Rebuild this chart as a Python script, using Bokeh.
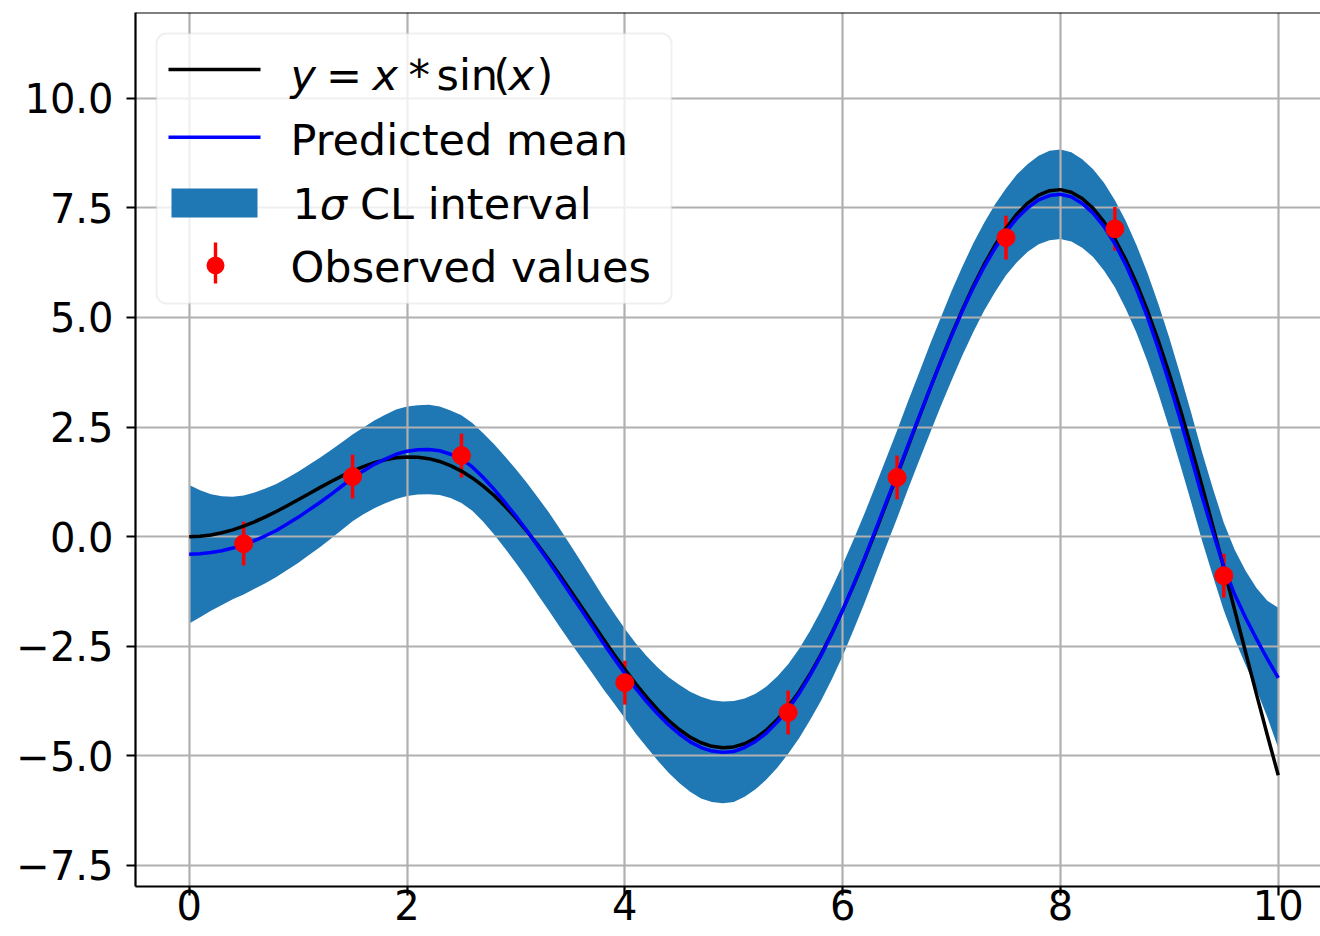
import numpy as np
from bokeh.plotting import figure
from bokeh.models import (Range1d, FixedTicker, CustomJSTickFormatter, Span,
                          BoxAnnotation, Label)
from bokeh.embed import file_html
from bokeh.resources import INLINE

# ---------------- data ----------------
x_grid = [round(0.1 * i, 1) for i in range(101)]     # sampling positions 0..10

true_y = [0.000, 0.010, 0.040, 0.089, 0.156, 0.240, 0.339, 0.451, 0.574, 0.705,
          0.841, 0.980, 1.118, 1.253, 1.380, 1.496, 1.599, 1.686, 1.753, 1.798,
          1.819, 1.813, 1.779, 1.715, 1.621, 1.496, 1.340, 1.154, 0.938, 0.694,
          0.423, 0.129, -0.187, -0.520, -0.869, -1.228, -1.593, -1.960, -2.325, -2.682,
          -3.027, -3.355, -3.661, -3.940, -4.187, -4.399, -4.571, -4.700, -4.782, -4.814,
          -4.795, -4.722, -4.594, -4.411, -4.173, -3.880, -3.535, -3.139, -2.695, -2.206,
          -1.676, -1.111, -0.515, 0.106, 0.746, 1.398, 2.056, 2.712, 3.360, 3.991,
          4.599, 5.176, 5.715, 6.208, 6.650, 7.035, 7.356, 7.609, 7.788, 7.891,
          7.915, 7.856, 7.714, 7.488, 7.179, 6.787, 6.316, 5.768, 5.147, 4.459,
          3.709, 2.904, 2.051, 1.158, 0.233, -0.714, -1.673, -2.636, -3.592, -4.529,
          -5.440]

pred_mean = [-0.40, -0.39, -0.36, -0.32, -0.26, -0.19, -0.09, 0.02, 0.14, 0.29,
             0.44, 0.61, 0.78, 0.96, 1.15, 1.34, 1.50, 1.65, 1.77, 1.88,
             1.95, 1.98, 1.99, 1.96, 1.88, 1.77, 1.59, 1.35, 1.08, 0.78,
             0.47, 0.14, -0.21, -0.56, -0.93, -1.30, -1.67, -2.04, -2.42, -2.77,
             -3.12, -3.46, -3.76, -4.04, -4.29, -4.50, -4.68, -4.81, -4.89, -4.92,
             -4.90, -4.81, -4.67, -4.48, -4.23, -3.93, -3.58, -3.17, -2.72, -2.22,
             -1.68, -1.10, -0.50, 0.14, 0.78, 1.42, 2.08, 2.72, 3.36, 3.98,
             4.58, 5.15, 5.68, 6.16, 6.58, 6.95, 7.26, 7.50, 7.68, 7.78,
             7.81, 7.75, 7.60, 7.38, 7.07, 6.68, 6.20, 5.64, 5.00, 4.28,
             3.50, 2.67, 1.81, 0.92, 0.10, -0.68, -1.32, -1.85, -2.33, -2.79,
             -3.22]

pred_sigma = [1.58, 1.45, 1.33, 1.24, 1.17, 1.13, 1.10, 1.08, 1.06, 1.05,
              1.04, 1.03, 1.02, 1.01, 1.00, 0.99, 0.99, 1.00, 1.01, 1.02,
              1.02, 1.02, 1.02, 1.01, 1.00, 1.00, 1.00, 1.01, 1.03, 1.05,
              1.07, 1.09, 1.11, 1.12, 1.12, 1.11, 1.09, 1.07, 1.05, 1.03,
              1.02, 1.03, 1.04, 1.06, 1.09, 1.12, 1.14, 1.16, 1.16, 1.16,
              1.15, 1.12, 1.09, 1.06, 1.04, 1.02, 1.02, 1.02, 1.03, 1.04,
              1.04, 1.03, 1.02, 1.01, 1.00, 1.00, 1.00, 1.00, 1.01, 1.01,
              1.02, 1.01, 1.01, 1.00, 1.00, 0.99, 1.00, 1.00, 1.01, 1.02,
              1.02, 1.02, 1.01, 1.00, 1.00, 0.99, 1.00, 1.00, 1.01, 1.02,
              1.03, 1.03, 1.02, 1.01, 1.00, 1.00, 1.02, 1.07, 1.16, 1.33,
              1.60]

obs_x = [0.5, 1.5, 2.5, 4.0, 5.5, 6.5, 7.5, 8.5, 9.5]
obs_y = [-0.16, 1.37, 1.85, -3.33, -4.01, 1.35, 6.82, 7.02, -0.89]
obs_err = [0.5, 0.5, 0.5, 0.5, 0.5, 0.5, 0.5, 0.5, 0.5]

x_ticks = [0, 2, 4, 6, 8, 10]
y_ticks = [-7.5, -5.0, -2.5, 0.0, 2.5, 5.0, 7.5, 10.0]

legend_labels = ["Predicted mean", "CL interval", "Observed values"]

# ---------------- derived ----------------
band_lo = [m - s for m, s in zip(pred_mean, pred_sigma)]
band_hi = [m + s for m, s in zip(pred_mean, pred_sigma)]
err_lo = [y - e for y, e in zip(obs_y, obs_err)]
err_hi = [y + e for y, e in zip(obs_y, obs_err)]

X_LEFT, X_RIGHT = -0.493, 10.388
Y_BOTTOM, Y_TOP = -7.979, 11.955

FONT = "DejaVu Sans"

p = figure(width=1320, height=936,
           x_range=Range1d(X_LEFT, X_RIGHT), y_range=Range1d(Y_BOTTOM, Y_TOP),
           output_backend="svg", toolbar_location=None,
           min_border_left=135, min_border_right=0,
           min_border_top=12, min_border_bottom=50,
           background_fill_color="white", border_fill_color="white",
           outline_line_color=None)

# band (below grid), error bars, curves, markers
p.varea(x=x_grid, y1=band_lo, y2=band_hi, fill_color="#1f77b4", level="image")
p.segment(x0=obs_x, y0=err_lo, x1=obs_x, y1=err_hi, line_color="#ff0000", line_width=3.5)
p.line(x_grid, true_y, line_color="black", line_width=3.5)
p.line(x_grid, pred_mean, line_color="#0000ff", line_width=3.5)
p.scatter(obs_x, obs_y, size=18, fill_color="#ff0000", line_color="#ff0000")

# grid
p.grid.grid_line_color = "#b0b0b0"
p.grid.grid_line_width = 2.2

# axes
xa = p.xaxis[0]
ya = p.yaxis[0]
xa.ticker = FixedTicker(ticks=x_ticks)
ya.ticker = FixedTicker(ticks=y_ticks)
xa.formatter = CustomJSTickFormatter(code="return tick.toFixed(0);")
ya.formatter = CustomJSTickFormatter(
    code="return (tick < 0 ? '\u2212' : '') + Math.abs(tick).toFixed(1);")
for ax in (xa, ya):
    ax.axis_line_color = "black"
    ax.axis_line_width = 2.2
    ax.major_tick_line_color = "black"
    ax.major_tick_line_width = 2.2
    ax.major_tick_out = 9
    ax.major_tick_in = 0
    ax.minor_tick_out = 0
    ax.minor_tick_in = 0
    ax.major_label_text_font = FONT
    ax.major_label_text_font_size = "40px"
    ax.major_label_text_color = "black"
xa.major_label_standoff = -6
ya.major_label_standoff = 13

# top spine
p.add_layout(Span(location=Y_TOP, dimension="width", line_color="black", line_width=2.2))

# ---------------- legend (screen units, relative to the plot frame) ----------------
def box(l, r, b, t, color, alpha=1.0, line_color=None, radius=0, lw=0):
    return BoxAnnotation(left=l, right=r, bottom=b, top=t,
                         left_units="screen", right_units="screen",
                         bottom_units="screen", top_units="screen",
                         fill_color=color, fill_alpha=alpha,
                         line_color=line_color, line_width=lw,
                         border_radius=radius)

def lab(x, y, text, italic=False, size="43px"):
    return Label(x=x, y=y, x_units="screen", y_units="screen", text=text,
                 text_font=FONT, text_font_size=size, text_color="black",
                 text_align="left", text_baseline="alphabetic",
                 text_font_style="italic" if italic else "normal")

p.add_layout(box(21, 536, 583, 853, "white", alpha=0.8, line_color="#cccccc",
                 radius=10, lw=2))
# samples
p.add_layout(box(33, 125, 815.2, 818.8, "black"))
p.add_layout(box(33, 125, 747.5, 751.1, "#0000ff"))
p.add_layout(box(36, 122, 669, 698, "#1f77b4"))
p.add_layout(box(78.3, 81.7, 603, 644, "#ff0000"))
p.add_layout(box(71, 89, 612, 630, "#ff0000", radius=9))

# texts: y = x * sin(x)
base1 = 811.5
p.add_layout(lab(155, base1, "y", italic=True))
p.add_layout(lab(190.4, base1, "="))
p.add_layout(lab(237, base1, "x", italic=True))
p.add_layout(lab(273, base1, "*"))
p.add_layout(lab(301, base1, "sin"))
p.add_layout(lab(358, base1, "("))
p.add_layout(lab(373, base1, "x", italic=True))
p.add_layout(lab(401, base1, ")"))
# Predicted mean
p.add_layout(lab(155, 747, legend_labels[0]))
# 1 sigma CL interval
p.add_layout(lab(157, 683, "1"))
p.add_layout(lab(184.3, 683, "\u03c3", italic=True))
p.add_layout(lab(224.5, 683, legend_labels[1]))
# Observed values
p.add_layout(lab(155, 619.5, legend_labels[2]))

open("out.html", "w").write(file_html(p, INLINE))
